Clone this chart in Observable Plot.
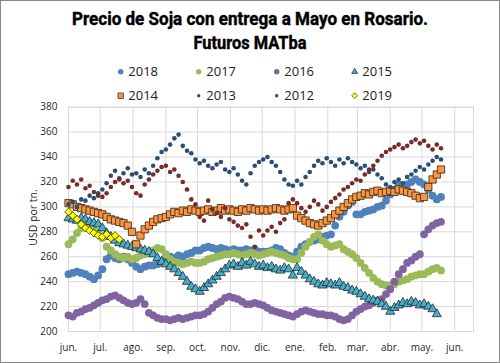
<!DOCTYPE html>
<html><head><meta charset="utf-8">
<script src="https://cdn.jsdelivr.net/npm/d3@7"></script>
<script src="https://cdn.jsdelivr.net/npm/@observablehq/plot@0.6"></script>
<style>
body{margin:0;background:#fff;}
#wrap{position:relative;width:500px;height:363px;overflow:hidden;font-family:"Open Sans",sans-serif;background:#fff;}
#border{position:absolute;left:0;top:0;width:498px;height:361px;border:1px solid #898989;pointer-events:none;}
#title{position:absolute;left:0;top:0;}
#legend{position:absolute;left:0;top:58px;}
#chart{position:absolute;left:0;top:100px;}
</style></head>
<body><div id="wrap">
<svg id="title" width="500" height="56"></svg>
<svg id="legend" width="500" height="52"></svg>
<div id="chart"></div>
<div id="border"></div>
</div>
<script>
const titleLines = ["Precio de Soja con entrega a Mayo en Rosario.", "Futuros MATba"];
const seriesNames = ["2018","2017","2016","2015","2014","2013","2012","2019"];
const monthLabels = ["ene.","feb.","mar.","abr.","may.","jun.","jul.","ago.","sep.","oct.","nov.","dic."];
const yTicks = [200,220,240,260,280,300,320,340,360,380];
const yLabel = "USD por tn.";
// values sampled every 4 days from June 1
const v2018 = [246,247,248,247,246,244,242,245, 250,258,261,259,258,260,258,255, 252,250,252,253,253,254,256, 259,260,259,261,260,262,263,265, 265,267,268,267,266,267,266,265, 266,265,265,266,265,266,264, 264,264,265,267,266,263,261,260, 264,268,270,272,273,274,276,277, 278,285,292,296,301,304,294, 294,296,297,298,300,301,305, 310,314,318,316,318,320,322,320, 318,314,309,306,308];
const v2017 = [270,274,279,283,285,284,282,279, 275,268,265,262,260,259,260,258, 259,261,262,263,265,267,266, 262,258,256,255,254,255,256,255, 255,256,258,259,260,261,262,262, 263,262,261,262,263,262,261, 262,263,264,263,262,261,259,258, 258,263,268,272,276,278,273,270, 268,269,270,266,264,262,259, 255,251,247,243,240,238,237, 237,238,240,241,242,244,245,246, 246,248,250,251,249];
const v2016 = [213,212,215,216,218,219,221,223, 225,226,228,229,227,225,223,222, 223,226,222,215,213,211,210, 210,209,210,211,210,211,212,213, 213,214,216,219,222,224,227,228, 227,226,224,222,222,223,222, 221,219,217,216,215,214,213,212, 214,216,217,216,215,214,214,213, 213,212,210,209,210,213,216, 218,220,221,223,225,226,230, 234,240,246,250,255,257,260,262, 278,282,285,287,288];
const v2015 = [291,290,289,291,290,288,287,286, 283,279,276,273,271,270,269,268, 267,266,265,264,262,259,256, 254,252,250,247,244,240,236,234, 232,235,238,241,244,247,250,253, 254,252,255,253,256,254,252, 253,251,252,250,249,251,250,245, 251,248,245,242,240,238,237,239, 238,237,239,236,235,233,232, 230,228,226,225,224,222,220, 216,219,221,223,222,224,223,221, 222,220,218,214];
const v2014 = [303,302,300,299,298,297,296,295, 294,292,290,289,288,287,285,280, 270,277,282,285,288,290,291, 292,294,296,295,297,296,298,297, 296,297,298,296,297,299,297,298, 297,296,298,297,299,298,297, 298,297,298,299,298,297,298,299, 293,291,289,287,286,285,287,289, 291,294,297,300,303,306,308, 309,311,310,312,313,311,312, 313,312,314,313,312,311,309,307, 308,316,322,326,330];
const v2013 = [302,304,300,306,305,309,307,311, 314,319,325,329,323,327,331,326, 327,324,330,327,333,339,344, 346,350,355,358,349,345,343,338, 335,337,333,331,334,336,330,328, 331,326,321,318,327,333,336, 338,340,336,333,328,322,318,317, 321,318,324,328,333,337,335,339, 336,333,338,335,339,336,334, 331,333,328,330,326,323,318, 316,320,322,319,324,326,329,332, 330,334,337,340,338];
const v2012 = [316,321,318,322,315,317,312,309, 308,311,316,320,322,319,321,316, 311,309,318,322,326,329,332, 333,328,330,325,320,314,306,302, 292,289,305,298,295,292,299,290, 288,285,283,286,276,268,281, 277,281,284,280,287,290,303,306, 303,299,296,300,305,302,297,300, 304,307,310,314,316,319,322, 321,326,330,333,337,341,344, 346,348,350,347,349,352,354,351, 353,349,346,350,347];
const v2019 = [296,293,290,286,283,281,279,277,276,278,275,277,274];

const seriesValues = {"2018":v2018,"2017":v2017,"2016":v2016,"2015":v2015,"2014":v2014,"2013":v2013,"2012":v2012,"2019":v2019};
const styles = {
  "2018":{fill:"#4F81BD",stroke:"none",symbol:"circle",r:3.9, lr:2.7},
  "2017":{fill:"#9BBB59",stroke:"none",symbol:"circle",r:3.9, lr:2.7},
  "2016":{fill:"#8064A2",stroke:"none",symbol:"circle",r:3.9, lr:2.7},
  "2015":{fill:"#4BACC6",stroke:"#1b2a30",symbol:"triangle",r:3.4, lr:2.2},
  "2014":{fill:"#F79646",stroke:"#3a2510",symbol:"square",r:4.1, lr:3.1},
  "2013":{fill:"#2C4D75",stroke:"none",symbol:"circle",r:2.3, lr:1.7},
  "2012":{fill:"#772C2A",stroke:"none",symbol:"circle",r:2.3, lr:1.7},
  "2019":{fill:"#FFFF00",stroke:"#3a3a10",symbol:"diamond2",r:3.5, lr:2.6}
};
const DAY = 864e5;
const start = new Date(Date.UTC(2018,5,1));
const stepDays = 4;
const end = new Date(start.getTime() + 382.7*DAY);
const monthTicks = d3.utcMonth.range(start, new Date(Date.UTC(2019,5,2)));

// title
const tsvg = d3.select("#title");
[[titleLines[0], 25, 356],[titleLines[1], 48.7, 113]].forEach(([t,y,len])=>{
  tsvg.append("text").attr("x",250).attr("y",y).attr("text-anchor","middle")
    .attr("font-family","Roboto, 'Liberation Sans', sans-serif").attr("font-weight","bold")
    .attr("font-size","18.5px").attr("fill","#000").attr("stroke","#000").attr("stroke-width",0.45)
    .attr("textLength",len).attr("lengthAdjust","spacingAndGlyphs").text(t);
});

const rows = [];
for (const s of seriesNames) {
  seriesValues[s].forEach((v,i)=>rows.push({serie:s, date:new Date(start.getTime()+i*stepDays*DAY), value:v}));
}

const dotMarks = seriesNames.map(s => Plot.dot(rows.filter(d=>d.serie===s), {
  x:"date", y:"value", fill:styles[s].fill, stroke:styles[s].stroke,
  strokeWidth: styles[s].stroke==="none"?0:0.8, symbol:styles[s].symbol, r:styles[s].r
}));

const chart = Plot.plot({
  width:500, height:263,
  marginLeft:68, marginRight:27, marginTop:6.7, marginBottom:32,
  x:{type:"utc", domain:[start,end]},
  y:{domain:[200,380]},
  style:{fontFamily:"Open Sans, sans-serif", fontSize:"10px", color:"#262626", background:"transparent", overflow:"visible"},
  marks:[
    Plot.gridX(monthTicks,{stroke:"#d9d9d9", strokeOpacity:1, strokeWidth:1}),
    Plot.gridY(yTicks,{stroke:"#d9d9d9", strokeOpacity:1, strokeWidth:1}),
    Plot.frame({stroke:"#d9d9d9"}),
    Plot.axisX(monthTicks,{tickSize:0, tickPadding:12, tickFormat:d=>monthLabels[d.getUTCMonth()], label:null, fill:"#262626"}),
    Plot.axisY(yTicks,{tickSize:0, tickPadding:11, label:null, fill:"#262626"}),
    ...dotMarks
  ]
});
document.getElementById("chart").appendChild(chart);
d3.select(chart).append("text")
  .attr("transform","translate(37,117.5) rotate(-90)")
  .attr("text-anchor","middle")
  .attr("font-family","Open Sans, sans-serif")
  .attr("font-size","10.5px")
  .attr("fill","#222")
  .text(yLabel);

// legend
const symMap = {circle:d3.symbolCircle, triangle:d3.symbolTriangle, square:d3.symbolSquare, diamond2:d3.symbolDiamond2};
const leg = d3.select("#legend");
seriesNames.forEach((s,i)=>{
  const col = i%4, row = Math.floor(i/4);
  const cx = 120.7 + 78*col, cy = 13.7 + 24*row;
  const st = styles[s];
  leg.append("path")
    .attr("transform",`translate(${cx},${cy})`)
    .attr("d", d3.symbol().type(symMap[st.symbol]).size(Math.PI*st.lr*st.lr)())
    .attr("fill", st.fill)
    .attr("stroke", st.stroke==="none"?null:st.stroke)
    .attr("stroke-width", 0.7);
  leg.append("text")
    .attr("x", cx+7.6).attr("y", cy).attr("dy","0.36em")
    .attr("font-family","Open Sans, sans-serif").attr("font-size","13px").attr("fill","#222")
    .text(s);
});
</script>
</body></html>
